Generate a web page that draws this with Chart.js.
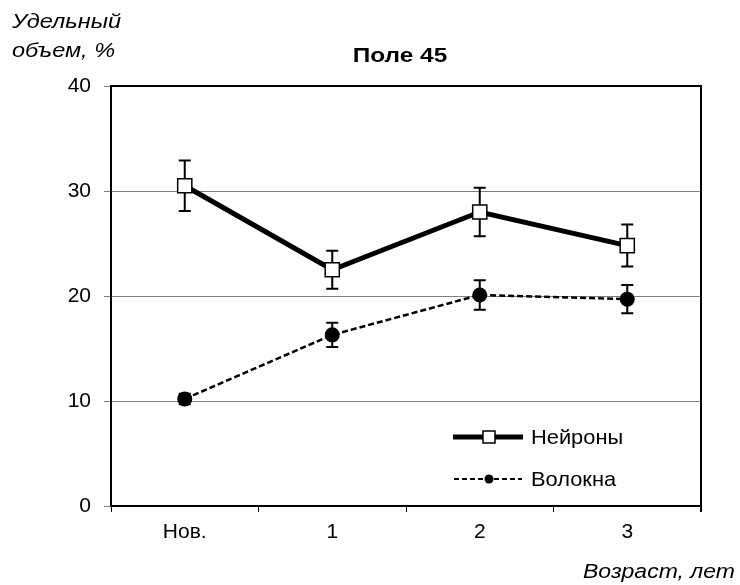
<!DOCTYPE html>
<html>
<head>
<meta charset="utf-8">
<script src="https://cdn.jsdelivr.net/npm/chart.js@4/dist/chart.umd.min.js"></script>
<style>
  body { margin: 0; background: #fff; }
  #wrap { width: 740px; height: 585px; }
</style>
</head>
<body>
<div id="wrap"><canvas id="chart"></canvas></div>
<script>
// data
var ageLabels = ['Нов.', '1', '2', '3'];
var neuronsVals = [30.5, 22.5, 28.0, 24.8];
var neuronsErr = [2.4, 1.8, 2.3, 2.0];
var fibersVals = [10.2, 16.3, 20.1, 19.7];
var fibersErr = [0.5, 1.15, 1.4, 1.35];
var yTicks = [0, 10, 20, 30, 40];

var FONT = '"Liberation Sans", Arial, sans-serif';

// error bars, drawn under the markers
var errorBarsPlugin = {
  id: 'errorBars',
  beforeDatasetsDraw: function(chart){
    var ctx = chart.ctx;
    var yScale = chart.scales.y;
    chart.data.datasets.forEach(function(ds, i){
      var meta = chart.getDatasetMeta(i);
      ctx.save();
      ctx.strokeStyle = '#000';
      ctx.lineWidth = 2;
      meta.data.forEach(function(pt, j){
        var v = ds.data[j], e = ds.errors[j];
        var top = yScale.getPixelForValue(v + e);
        var bot = yScale.getPixelForValue(v - e);
        ctx.beginPath();
        ctx.moveTo(pt.x, top); ctx.lineTo(pt.x, bot);
        ctx.moveTo(pt.x - 6, top); ctx.lineTo(pt.x + 6, top);
        ctx.moveTo(pt.x - 6, bot); ctx.lineTo(pt.x + 6, bot);
        ctx.stroke();
      });
      ctx.restore();
    });
  }
};

// text a bit stretched sideways, like the original
function wideText(ctx, txt, x, y, align, font, sx){
  ctx.save();
  ctx.translate(x, y);
  ctx.scale(sx, 1);
  ctx.textAlign = align;
  ctx.textBaseline = 'alphabetic';
  ctx.font = font;
  ctx.fillText(txt, 0, 0);
  ctx.restore();
}

// frame, texts and legend
var decorPlugin = {
  id: 'decor',
  afterDraw: function(chart){
    var ctx = chart.ctx;
    var a = chart.chartArea;
    ctx.save();
    ctx.strokeStyle = '#000';
    ctx.lineWidth = 2;
    ctx.strokeRect(a.left, a.top, a.right - a.left, a.bottom - a.top);
    // tick below the right corner
    ctx.beginPath();
    ctx.moveTo(a.right, a.bottom); ctx.lineTo(a.right, a.bottom + 6);
    ctx.stroke();

    ctx.fillStyle = '#000';
    wideText(ctx, 'Поле 45', 400, 62, 'center', 'bold 20px ' + FONT, 1.22);
    wideText(ctx, 'Удельный', 12, 28, 'left', 'italic 21px ' + FONT, 1.12);
    wideText(ctx, 'объем, %', 12, 57, 'left', 'italic 21px ' + FONT, 1.12);
    wideText(ctx, 'Возраст, лет', 735, 578, 'right', 'italic 20px ' + FONT, 1.15);

    // legend
    var ds = chart.data.datasets;
    ctx.beginPath();
    ctx.lineWidth = 5;
    ctx.moveTo(453, 437); ctx.lineTo(523, 437);
    ctx.stroke();
    ctx.fillStyle = '#fff';
    ctx.lineWidth = 1.5;
    ctx.fillRect(483, 431, 12, 12);
    ctx.strokeRect(483, 431, 12, 12);

    ctx.beginPath();
    ctx.lineWidth = 2;
    ctx.setLineDash([5, 3]);
    ctx.moveTo(454, 479); ctx.lineTo(522, 479);
    ctx.stroke();
    ctx.setLineDash([]);
    ctx.beginPath();
    ctx.fillStyle = '#000';
    ctx.arc(489, 479, 4.5, 0, Math.PI * 2);
    ctx.fill();

    wideText(ctx, ds[0].label, 531, 444, 'left', '21px ' + FONT, 1.04);
    wideText(ctx, ds[1].label, 531, 486, 'left', '21px ' + FONT, 1.04);
    ctx.restore();
  }
};

new Chart(document.getElementById('chart'), {
  type: 'line',
  data: {
    labels: ageLabels,
    datasets: [{
      label: 'Нейроны',
      data: neuronsVals,
      errors: neuronsErr,
      borderColor: '#000',
      borderWidth: 5,
      pointStyle: 'rect',
      pointRadius: 10,
      pointBackgroundColor: '#fff',
      pointBorderColor: '#000',
      pointBorderWidth: 1.5,
      tension: 0
    }, {
      label: 'Волокна',
      data: fibersVals,
      errors: fibersErr,
      borderColor: '#000',
      borderWidth: 2.5,
      borderDash: [6, 3],
      pointStyle: 'circle',
      pointRadius: 7.5,
      pointBackgroundColor: '#000',
      pointBorderColor: '#000',
      pointBorderWidth: 0,
      tension: 0
    }]
  },
  options: {
    responsive: true,
    maintainAspectRatio: false,
    animation: false,
    layout: { padding: { top: 86, right: 39, left: 0, bottom: 0 } },
    plugins: {
      legend: { display: false },
      title: { display: false },
      tooltip: { enabled: false }
    },
    scales: {
      x: {
        offset: true,
        grid: { offset: true, drawOnChartArea: false, color: '#000', lineWidth: 1, tickLength: 6 },
        border: { display: false },
        ticks: { color: '#000', font: { family: FONT, size: 21 }, padding: 8, maxRotation: 0 },
        afterFit: function(s){ s.height = 79; }
      },
      y: {
        min: 0,
        max: 40,
        afterBuildTicks: function(s){ s.ticks = yTicks.map(function(v){ return { value: v }; }); },
        grid: { color: '#808080', lineWidth: 1, tickLength: 7 },
        border: { display: false },
        ticks: { color: '#000', font: { family: FONT, size: 21 }, padding: 13 },
        afterFit: function(s){ s.width = 111; }
      }
    }
  },
  plugins: [errorBarsPlugin, decorPlugin]
});
</script>
</body>
</html>
